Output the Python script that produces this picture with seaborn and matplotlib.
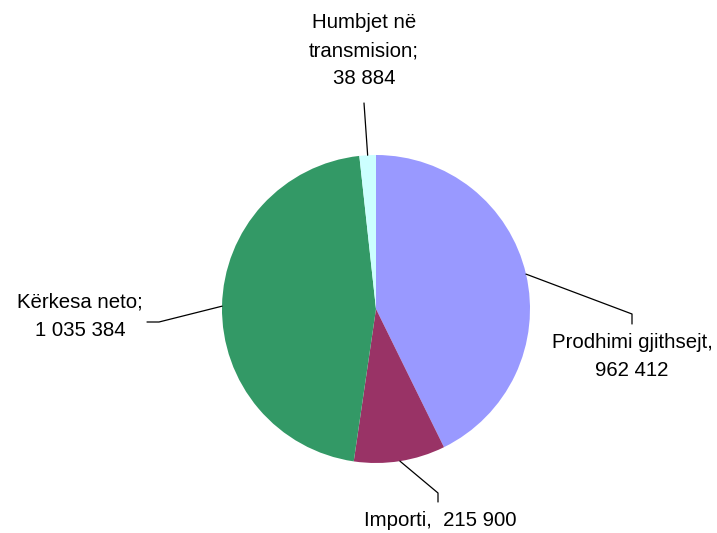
import numpy as np
import matplotlib
matplotlib.use("Agg")
import matplotlib.pyplot as plt
import seaborn as sns

sns.set_theme(style="white")
plt.rcParams['font.family'] = ['Liberation Sans', 'DejaVu Sans']

# Data
categories = ["Prodhimi gjithsejt", "Importi", "Kërkesa neto", "Humbjet në transmision"]
values = [962412, 215900, 1035384, 38884]
labels = ["Prodhimi gjithsejt,\n962 412", "Importi,  215 900", "Kërkesa neto;\n1 035 384",
          "Humbjet në\ntransmision;\n38 884"]
colors = ["#9999FF", "#993366", "#339966", "#CCFFFF"]

W, H = 717, 533
fig = plt.figure(figsize=(W / 100, H / 100), dpi=100)
ax = fig.add_axes([0, 0, 1, 1])

cx, cy, r = 376, H - 309, 154
wedges, _ = ax.pie(values, colors=colors, startangle=90, counterclock=False,
                   center=(cx, cy), radius=r, frame=True,
                   wedgeprops=dict(linewidth=0))
ax.set_xlim(0, W)
ax.set_ylim(0, H)
ax.set_aspect('equal')
ax.axis('off')

def py(y):
    return H - y

# label layout: elbow points (pixel coords, after wedge anchor), text centre
layouts = [
    ([(632, 314), (632, 324)], (632, 357)),
    ([(438, 493), (438, 502)], (440, 520)),
    ([(159, 322), (147, 322)], (80, 316)),
    ([(364, 103)], (364, 51)),
]

for w, lab, (pts, tpos) in zip(wedges, labels, layouts):
    ang = np.deg2rad((w.theta1 + w.theta2) / 2)
    ax_ = cx + r * np.cos(ang)
    ay_ = cy + r * np.sin(ang)
    xs = [ax_] + [p[0] for p in pts]
    ys = [ay_] + [py(p[1]) for p in pts]
    ax.plot(xs, ys, color='black', lw=0.9)
    ax.text(tpos[0], py(tpos[1]), lab, ha='center', va='center', fontsize=14.7,
            color='black', linespacing=1.6)

fig.savefig("out.png", dpi=100)
